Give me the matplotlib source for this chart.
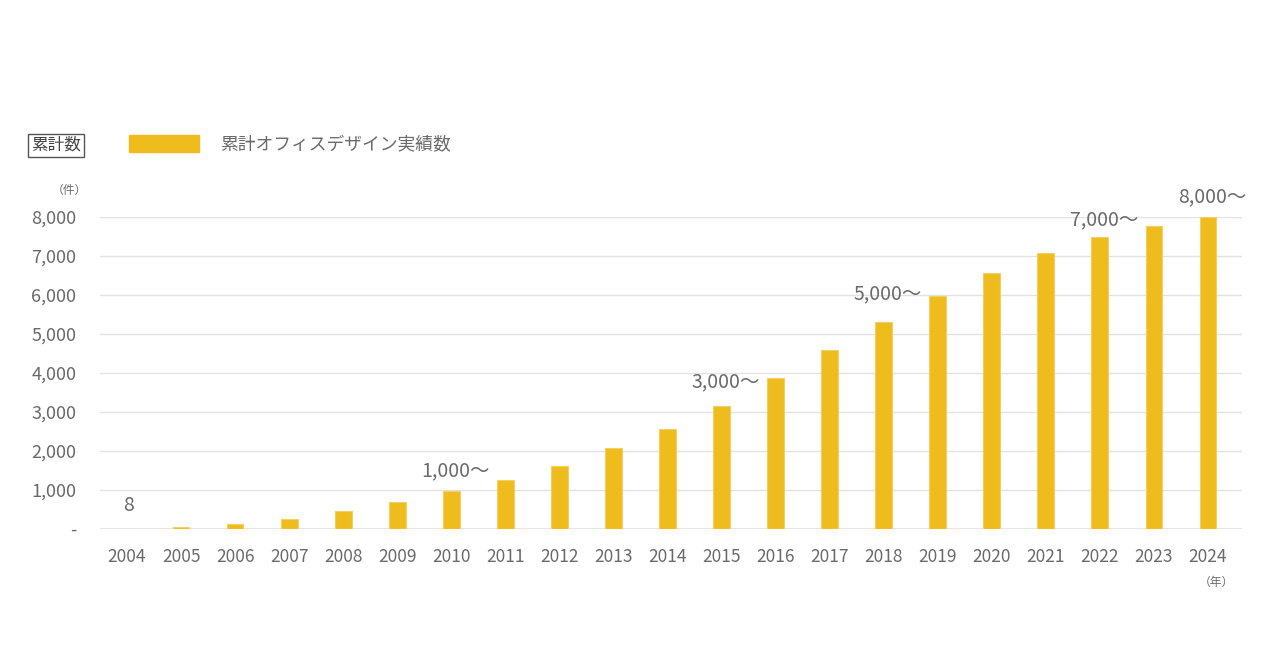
import numpy as np
import matplotlib
matplotlib.use('Agg')
import matplotlib.pyplot as plt
from matplotlib.patches import Rectangle

plt.rcParams['font.family'] = ['Noto Sans CJK JP', 'DejaVu Sans']

# data
years = ['2004', '2005', '2006', '2007', '2008', '2009', '2010', '2011', '2012', '2013', '2014',
         '2015', '2016', '2017', '2018', '2019', '2020', '2021', '2022', '2023', '2024']
totals = [8, 50, 130, 250, 460, 700, 975, 1260, 1615, 2080, 2565,
          3150, 3870, 4590, 5310, 5975, 6565, 7080, 7490, 7770, 8000]
yticks = [0, 1000, 2000, 3000, 4000, 5000, 6000, 7000, 8000]
ytick_labels = ['-', '1,000', '2,000', '3,000', '4,000', '5,000', '6,000', '7,000', '8,000']
note_years = ['2004', '2010', '2015', '2018', '2022', '2024']
note_texts = ['8', '1,000〜', '3,000〜', '5,000〜', '7,000〜', '8,000〜']
note_lift = [9, 7, 10, 13, 5, 7]   # points above the bar top

bar_color = '#EFBC1E'
edge_color = '#F4D064'
text_color = '#6A6A6A'
grid_color = '#E3E3E3'

fig = plt.figure(figsize=(12.8, 6.7), dpi=100)
ax = fig.add_axes([100/1280, 141/670, 1142/1280, 312/670])

x = np.arange(len(years))
ax.bar(x, totals, width=0.31, color=bar_color, edgecolor=edge_color, linewidth=0.8, zorder=3)

ax.set_xlim(-0.5, len(years) - 0.37)
ax.set_ylim(0, 8000)
ax.set_yticks(yticks)
ax.set_yticklabels(ytick_labels)
ax.set_xticks(x)
ax.set_xticklabels(years)
ax.tick_params(axis='both', length=0, colors=text_color)
ax.tick_params(axis='x', pad=14, labelsize=12.5)
ax.tick_params(axis='y', pad=17, labelsize=13)
ax.grid(axis='y', color=grid_color, linewidth=1, zorder=0)
ax.set_axisbelow(True)
for s in ax.spines.values():
    s.set_visible(False)
ax.axhline(0, color=grid_color, linewidth=1.2, zorder=1)

# labels above selected bars
for yr, txt, lift in zip(note_years, note_texts, note_lift):
    i = years.index(yr)
    ax.annotate(txt, xy=(i, totals[i]), xytext=(3 if len(txt) > 1 else 1, lift),
                textcoords='offset points', ha='center', va='bottom',
                fontsize=14, color=text_color, annotation_clip=False)

# legend / header
fig.text(56/1280, 1 - 145/670, '累計数', ha='center', va='center', fontsize=12,
         color='#444444',
         bbox=dict(boxstyle='square,pad=0.18', facecolor='white', edgecolor='#555555', linewidth=1))
fig.patches.append(Rectangle((129/1280, 1 - 152/670), 70/1280, 17/670,
                             transform=fig.transFigure, color=bar_color))
fig.text(220/1280, 1 - 145/670, '累計オフィスデザイン実績数', ha='left', va='center',
         fontsize=12.8, color=text_color)
fig.text(69/1280, 1 - 190/670, '（件）', ha='center', va='center', fontsize=8.5, color=text_color)
fig.text(1216/1280, 1 - 582/670, '（年）', ha='center', va='center', fontsize=8.5, color=text_color)

fig.savefig('out.png', dpi=100, facecolor='white')
